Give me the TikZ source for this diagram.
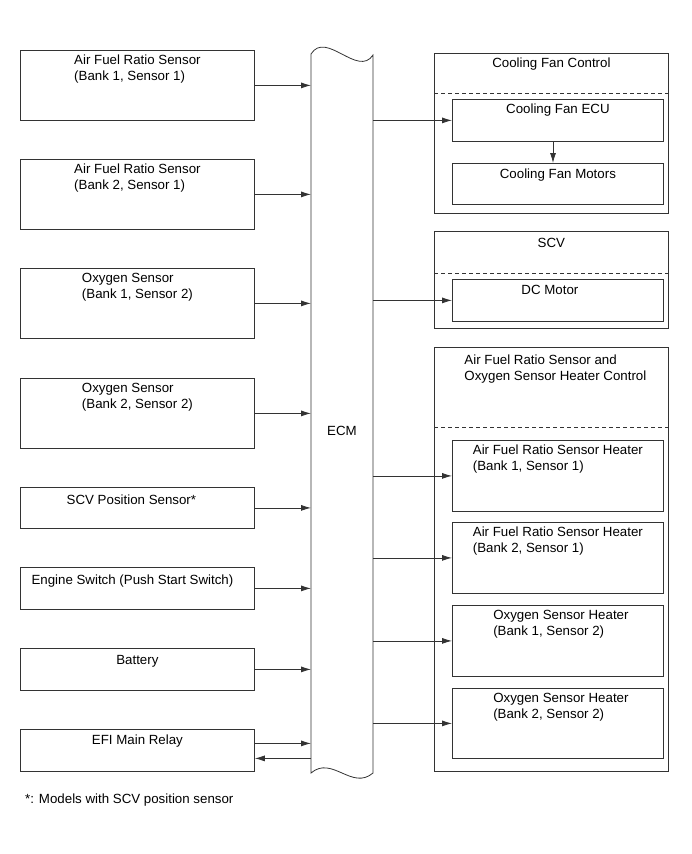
\documentclass[tikz,border=0pt]{standalone}
\usepackage{fontspec}
\setmainfont{Liberation Sans}
\usetikzlibrary{arrows.meta,positioning}
\begin{document}
\begin{tikzpicture}[x=1pt,y=-1pt,
  every node/.style={font=\fontsize{13.3}{16}\selectfont},
  frame/.style={draw=black!80, line width=0.8pt, rectangle, inner sep=0pt, anchor=north west},
  txt/.style={anchor=north, align=left, inner sep=0pt},
  arr/.style={-{Latex[length=10pt,width=6pt]}, line width=0.8pt, draw=black!80},
  sep/.style={draw=black!80, line width=0.8pt, dash pattern=on 4pt off 3pt}]
\useasboundingbox (0,0) rectangle (691,854);
% ---------- left boxes ----------
\node[frame, minimum width=234pt, minimum height=70pt] (b1) at (20,50) {};
\node[frame, minimum width=234pt, minimum height=70pt] (b2) at (20,159) {};
\node[frame, minimum width=234pt, minimum height=70pt] (b3) at (20,268) {};
\node[frame, minimum width=234pt, minimum height=70pt] (b4) at (20,378) {};
\node[frame, minimum width=234pt, minimum height=41pt] (b5) at (20,487) {};
\node[frame, minimum width=234pt, minimum height=42pt] (b6) at (20,567) {};
\node[frame, minimum width=234pt, minimum height=42pt] (b7) at (20,648) {};
\node[frame, minimum width=234pt, minimum height=42pt] (b8) at (20,729) {};
\node[txt] (t1) at ([yshift=-5pt]b1.north) {Air Fuel Ratio Sensor\\(Bank 1, Sensor 1)};
\node[txt] (t2) at ([yshift=-5pt]b2.north) {Air Fuel Ratio Sensor\\(Bank 2, Sensor 1)};
\node[txt] (t3) at ([yshift=-5pt]b3.north) {Oxygen Sensor\\(Bank 1, Sensor 2)};
\node[txt] (t4) at ([yshift=-5pt]b4.north) {Oxygen Sensor\\(Bank 2, Sensor 2)};
\node[txt] (t5) at ([xshift=-6pt,yshift=-8pt]b5.north) {SCV Position Sensor*};
\node[txt] (t6) at ([xshift=-5pt,yshift=-8pt]b6.north) {Engine Switch (Push Start Switch)};
\node[txt] (t7) at ([yshift=-7pt]b7.north) {Battery};
\node[txt] (t8) at ([yshift=-6pt]b8.north) {EFI Main Relay};
% ---------- ECM ----------
\node[inner sep=0pt, minimum width=62pt, minimum height=719pt, anchor=north west] (ecm) at (311,54) {};
\draw[draw=black!80, line width=0.8pt]
  (311,54) .. controls (326,30) and (358,78) .. (373,55)
  -- (373,773) .. controls (352,791) and (332,755) .. (311,773) -- cycle;
\node (ecmlbl) at (342,431) {ECM};
% ---------- right: cooling fan ----------
\node[frame, minimum width=234pt, minimum height=160pt] (cfc) at (434,53) {};
\draw[sep] (cfc.west |- 0,93) -- (cfc.east |- 0,93);
\node[txt] (tcfc) at ([yshift=-5pt]cfc.north) {Cooling Fan Control};
\node[frame, minimum width=211pt, minimum height=42pt] (ecu) at (452,99) {};
\node[txt] (tecu) at ([yshift=-5pt]ecu.north) {Cooling Fan ECU};
\node[frame, minimum width=211pt, minimum height=41pt] (mot) at (452,163) {};
\node[txt] (tmot) at ([yshift=-6pt]mot.north) {Cooling Fan Motors};
% ---------- right: SCV ----------
\node[frame, minimum width=234pt, minimum height=97pt] (scv) at (434,231) {};
\draw[sep] (scv.west |- 0,273) -- (scv.east |- 0,273);
\node[txt] (tscv) at ([yshift=-7pt]scv.north) {SCV};
\node[frame, minimum width=211pt, minimum height=42pt] (dcm) at (452,279) {};
\node[txt] (tdcm) at ([xshift=-8pt,yshift=-6pt]dcm.north) {DC Motor};
% ---------- right: heater control ----------
\node[frame, minimum width=234pt, minimum height=424pt] (hc) at (434,347) {};
\draw[sep] (hc.west |- 0,427) -- (hc.east |- 0,427);
\node[txt] (thc) at ([xshift=4pt,yshift=-8pt]hc.north) {Air Fuel Ratio Sensor and\\Oxygen Sensor Heater Control};
\node[frame, minimum width=211pt, minimum height=71pt] (h1) at (452,440) {};
\node[frame, minimum width=211pt, minimum height=71pt] (h2) at (452,522) {};
\node[frame, minimum width=211pt, minimum height=71pt] (h3) at (452,605) {};
\node[frame, minimum width=211pt, minimum height=70pt] (h4) at (452,688) {};
\node[txt] (th1) at ([yshift=-5pt]h1.north) {Air Fuel Ratio Sensor Heater\\(Bank 1, Sensor 1)};
\node[txt] (th2) at ([yshift=-5pt]h2.north) {Air Fuel Ratio Sensor Heater\\(Bank 2, Sensor 1)};
\node[txt] (th3) at ([xshift=3pt,yshift=-5pt]h3.north) {Oxygen Sensor Heater\\(Bank 1, Sensor 2)};
\node[txt] (th4) at ([xshift=3pt,yshift=-5pt]h4.north) {Oxygen Sensor Heater\\(Bank 2, Sensor 2)};
% ---------- connectors: inputs ----------
\foreach \b in {b1,b2,b3,b4,b5,b6,b7}
  \draw[arr] (\b.east) -- (ecm.west |- \b.east);
\coordinate (r8a) at ([yshift=7pt]b8.east);
\coordinate (r8b) at ([yshift=-8pt]b8.east);
\draw[arr] (r8a) -- (ecm.west |- r8a);
\draw[arr] (ecm.west |- r8b) -- (r8b);
% ---------- connectors: outputs ----------
\foreach \b in {ecu,dcm,h1,h2,h3,h4}
  \draw[arr] (ecm.east |- \b.west) -- (\b.west);
\coordinate (fa) at (553,141);
\coordinate (fb) at (553,163);
\draw[arr] (ecu.south -| fa) -- (mot.north -| fb);
% ---------- footnote ----------
\node[anchor=west, inner sep=0pt] (fn) at (25,800) {*: Models with SCV position sensor};
\end{tikzpicture}
\end{document}
